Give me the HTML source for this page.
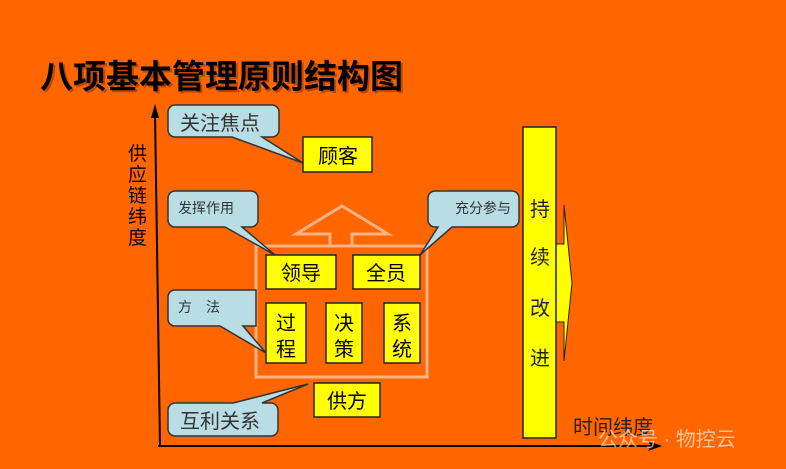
<!DOCTYPE html>
<html><head><meta charset="utf-8"><style>
html,body{margin:0;padding:0;background:#ff6600;}
svg{display:block}
text{font-family:"Liberation Sans","Noto Sans CJK SC",sans-serif;}
</style></head><body>
<svg width="786" height="469" viewBox="0 0 786 469" xmlns="http://www.w3.org/2000/svg">
<rect width="786" height="469" fill="#ff6600"/>
<text x="40" y="88" font-size="33" font-weight="bold" fill="#7a2a00" opacity="0.5" transform="translate(2,2)">八项基本管理原则结构图</text>
<text x="40" y="88" font-size="33" font-weight="bold" fill="#000">八项基本管理原则结构图</text>
<line x1="160" y1="446" x2="155" y2="112" stroke="#000" stroke-width="2"/>
<polygon points="155,104 151,118 159,118" fill="#000"/>
<line x1="158" y1="446" x2="656" y2="446" stroke="#000" stroke-width="2"/>
<polygon points="662,446 648,441 651,446 648,451" fill="#000"/>
<g font-size="19" fill="#000">
<text x="128" y="160">供</text><text x="128" y="181">应</text><text x="128" y="202">链</text><text x="128" y="223">纬</text><text x="128" y="244">度</text>
</g>
<g fill="none" stroke="#fbb383" stroke-width="3">
<polyline points="330,246 330,234 296,234 342,206 388,234 352,234 352,246"/>
<rect x="256" y="246" width="171" height="131"/>
</g>
<g fill="#b9dde4" stroke="#333" stroke-width="1.5">
<path d="M175,105 H272 a7,7 0 0 1 7,7 V130 a7,7 0 0 1 -7,7 H262 L303,163 L232,137 H175 a7,7 0 0 1 -7,-7 V112 a7,7 0 0 1 7,-7Z"/>
<path d="M175,191 H251 a7,7 0 0 1 7,7 V220 a7,7 0 0 1 -7,7 H242 L275,255 L225,227 H175 a7,7 0 0 1 -7,-7 V198 a7,7 0 0 1 7,-7Z"/>
<path d="M435,191 H512 a7,7 0 0 1 7,7 V220 a7,7 0 0 1 -7,7 H452 L420,255 L438,227 H435 a7,7 0 0 1 -7,-7 V198 a7,7 0 0 1 7,-7Z"/>
<path d="M175,290 H256 V326 H243 L266,353 L220,326 H175 a7,7 0 0 1 -7,-7 V297 a7,7 0 0 1 7,-7Z"/>
<path d="M175,403 H233 L308,384 L262,403 H271 a7,7 0 0 1 7,7 V429 a7,7 0 0 1 -7,7 H175 a7,7 0 0 1 -7,-7 V410 a7,7 0 0 1 7,-7Z"/>
</g>
<g fill="#333">
<text x="180" y="130" font-size="20">关注焦点</text>
<text x="178" y="213" font-size="14">发挥作用</text>
<text x="455" y="213" font-size="14">充分参与</text>
<text x="178" y="312" font-size="14">方　法</text>
<text x="180" y="428" font-size="20">互利关系</text>
</g>
<g fill="#ffff00" stroke="#222" stroke-width="1.5">
<rect x="303" y="137" width="69" height="35"/>
<rect x="266" y="255" width="70" height="34"/>
<rect x="353" y="255" width="67" height="34"/>
<rect x="266" y="303" width="40" height="60"/>
<rect x="326" y="303" width="36" height="60"/>
<rect x="384" y="303" width="36" height="60"/>
<rect x="314" y="383" width="66" height="34"/>
<polygon points="564,205 572,283 564,361 564,322 556,322 556,244 564,244" stroke-width="1"/>
<rect x="523" y="127" width="33" height="311"/>
</g>
<g fill="#000" font-size="20">
<text x="318" y="163">顾客</text>
<text x="281" y="280">领导</text>
<text x="366" y="280">全员</text>
<text x="276" y="330">过</text><text x="276" y="356">程</text>
<text x="334" y="330">决</text><text x="334" y="356">策</text>
<text x="392" y="330">系</text><text x="392" y="356">统</text>
<text x="327" y="408">供方</text>
</g>
<g fill="#222" font-size="20">
<text x="530" y="216">持</text><text x="530" y="264">续</text><text x="530" y="315">改</text><text x="530" y="365">进</text>
<text x="573" y="434">时间纬度</text>
</g>
<text x="598" y="446" font-size="20" fill="#ffffff" opacity="0.6">公众号 · 物控云</text>
</svg>
</body></html>
